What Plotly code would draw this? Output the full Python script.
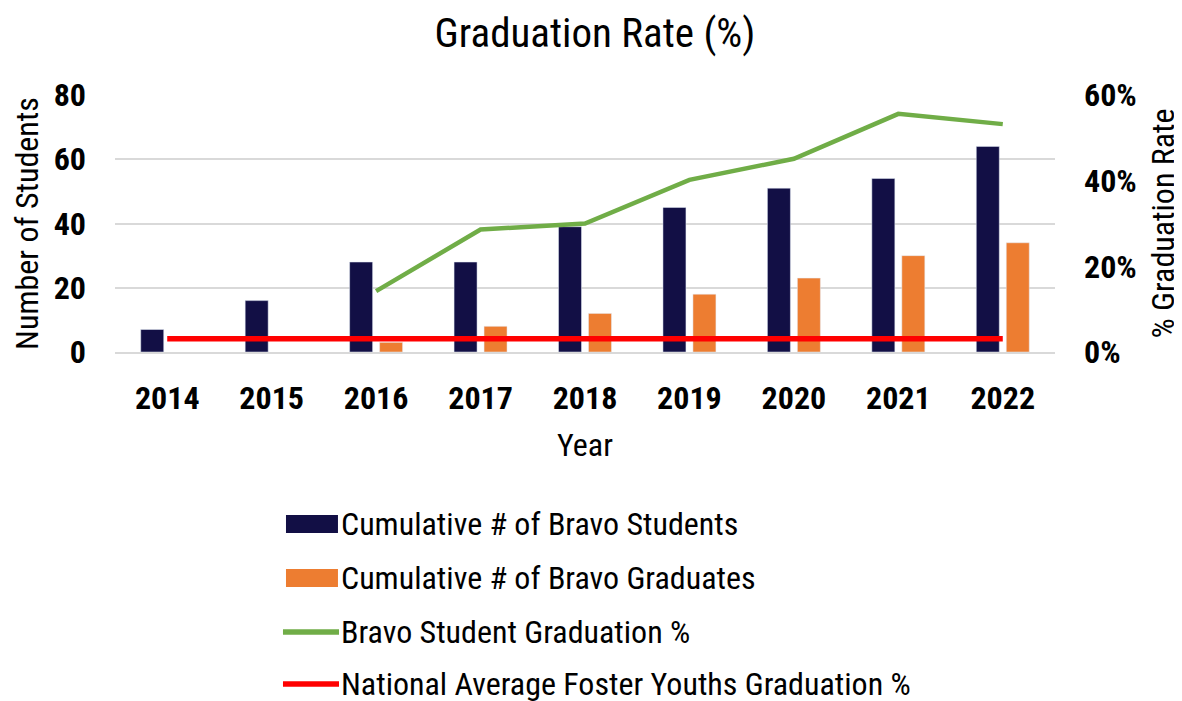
import plotly.graph_objects as go

years = ["2014", "2015", "2016", "2017", "2018", "2019", "2020", "2021", "2022"]
students = [7, 16, 28, 28, 39, 45, 51, 54, 64]
graduates = [None, None, 3, 8, 12, 18, 23, 30, 34]
grad_pct = [None, None, 14.2, 28.6, 30.0, 40.2, 45.1, 55.6, 53.2]
national_pct = [3.1] * 9

names = ["Cumulative # of Bravo Students", "Cumulative # of Bravo Graduates",
         "Bravo Student Graduation %", "National Average Foster Youths Graduation %"]
colors = ["#120F45", "#ED7D31", "#70AD47", "#FF0000"]

FONT = "Roboto Condensed, Liberation Sans Narrow, DejaVu Sans Condensed, Roboto, sans-serif"

fig = go.Figure()
fig.add_trace(go.Bar(x=years, y=students, name=names[0], marker_color=colors[0]))
fig.add_trace(go.Bar(x=years, y=graduates, name=names[1], marker_color=colors[1]))
fig.add_trace(go.Scatter(x=years, y=grad_pct, name=names[2], mode="lines",
                         line=dict(color=colors[2], width=4.5), yaxis="y2"))
fig.add_trace(go.Scatter(x=years, y=national_pct, name=names[3], mode="lines",
                         line=dict(color=colors[3], width=5.5), yaxis="y2"))

# legend drawn below the plot (paper coordinates)
row_y = [-0.6693, -0.8794, -1.0895, -1.2918]
sym_x0, sym_x1, text_x = 0.1819, 0.2372, 0.2383
rect_half = 0.035
for i, (nm, col) in enumerate(zip(names, colors)):
    if i < 2:
        fig.add_shape(type="rect", xref="paper", yref="paper",
                      x0=sym_x0, x1=sym_x1, y0=row_y[i] - rect_half, y1=row_y[i] + rect_half,
                      fillcolor=col, line=dict(width=0))
    else:
        fig.add_shape(type="line", xref="paper", yref="paper",
                      x0=0.1787, x1=0.2383, y0=row_y[i], y1=row_y[i],
                      line=dict(color=col, width=5.5))
    fig.add_annotation(text=nm, xref="paper", yref="paper", x=text_x, y=row_y[i],
                       xanchor="left", yanchor="middle", showarrow=False,
                       font=dict(size=32, family=FONT, color="black"))

fig.update_layout(
    width=1174, height=693,
    paper_bgcolor="white", plot_bgcolor="white",
    font=dict(family=FONT, color="black", size=32),
    title=dict(text="Graduation Rate (%)", x=0.5, xanchor="center", y=0.965, yanchor="middle",
               font=dict(size=41, family=FONT, color="black")),
    margin=dict(l=107, r=127, t=87, b=349),
    barmode="group", bargap=0.426, bargroupgap=0.233,
    showlegend=False,
    xaxis=dict(title=dict(text="Year", font=dict(size=32), standoff=17),
               tickfont=dict(size=32, weight="bold"), ticklabelstandoff=17,
               showline=True, linecolor="#D9D9D9", linewidth=2, ticks="", showgrid=False,
               automargin=False),
    yaxis=dict(title=dict(text="Number of Students", font=dict(size=32), standoff=14),
               range=[0, 80], dtick=20, tickfont=dict(size=32, weight="bold"),
               ticklabelstandoff=28,
               gridcolor="#D9D9D9", gridwidth=2, zeroline=False, ticks="",
               automargin=False),
    yaxis2=dict(title=dict(text="% Graduation Rate", font=dict(size=32), standoff=17),
                overlaying="y", side="right", range=[0, 60], dtick=20, ticksuffix="%",
                tickfont=dict(size=32, weight="bold"), ticklabelstandoff=28,
                showgrid=False, zeroline=False, automargin=False),
)

fig.write_html("out.html")
